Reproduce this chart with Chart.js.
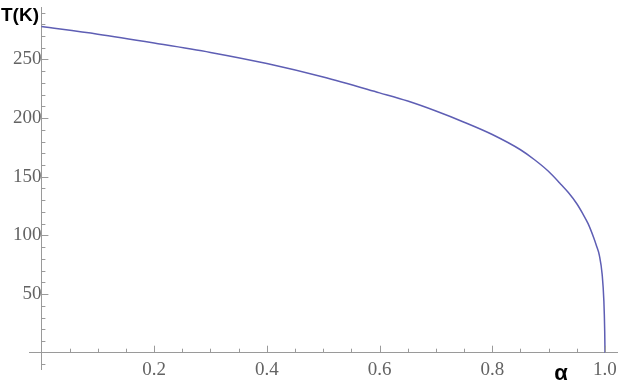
<!DOCTYPE html>
<html>
<head>
<meta charset="utf-8">
<script src="https://cdn.jsdelivr.net/npm/chart.js@4.4.0/dist/chart.umd.min.js"></script>
<style>
    html, body { margin: 0; padding: 0; background: #fff; }
    #wrap { width: 629px; height: 390px; }
</style>
</head>
<body>
<div id="wrap"><canvas id="chart" width="629" height="390"></canvas></div>
<script>
// Values
const alpha = [0, 0.1, 0.2, 0.3, 0.4, 0.5, 0.6, 0.65, 0.7, 0.75, 0.8, 0.85, 0.875, 0.9, 0.92, 0.935, 0.95, 0.96, 0.97, 0.98, 0.985, 0.99, 0.995, 0.998, 0.9995, 1.0];
const temp  = [278, 271.5, 264, 256, 246.5, 235, 221.5, 214.5, 206, 196.5, 186, 173, 164.5, 154.5, 144.5, 136.5, 127, 119, 110, 98, 91, 83, 66.5, 44, 18, 0];

const xTicks = [0.2, 0.4, 0.6, 0.8, 1.0];
const yTicks = [50, 100, 150, 200, 250];

const axisColor = '#9a9a9a';
const labelColor = '#636363';

// Mathematica style tick marks, pointing into the plot
const tickMarks = {
    id: 'tickMarks',
    afterDraw(chart) {
        const ctx = chart.ctx;
        const xs = chart.scales.x, ys = chart.scales.y;
        const x0 = xs.getPixelForValue(0);
        const y0 = ys.getPixelForValue(0);
        ctx.save();
        ctx.strokeStyle = axisColor;
        ctx.lineWidth = 1;
        ctx.beginPath();
        // x axis: minor every 0.05, major every 0.2
        for (let i = Math.ceil(xs.min / 0.05); i * 0.05 <= xs.max; i++) {
            if (i === 0) continue;
            const px = Math.round(xs.getPixelForValue(i * 0.05)) + 0.5;
            const len = i % 4 === 0 ? 7 : 4;
            ctx.moveTo(px, y0);
            ctx.lineTo(px, y0 - len);
        }
        // y axis: minor every 10, major every 50
        for (let j = Math.ceil(ys.min / 10); j * 10 <= ys.max; j++) {
            if (j === 0) continue;
            const py = Math.round(ys.getPixelForValue(j * 10)) + 0.5;
            const len = j % 5 === 0 ? 7 : 4;
            ctx.moveTo(x0, py);
            ctx.lineTo(x0 + len, py);
        }
        ctx.stroke();

        // axis names
        ctx.fillStyle = '#000';
        ctx.font = 'bold 19px "Liberation Sans", Arial, sans-serif';
        ctx.textAlign = 'left';
        ctx.textBaseline = 'alphabetic';
        ctx.fillText('T(K)', 1, 21);
        ctx.font = 'bold 22px "Liberation Sans", Arial, sans-serif';
        ctx.textAlign = 'center';
        ctx.fillText('α', 561, 380);
        ctx.restore();
    }
};

// keep the label overhang from shrinking the plot area
const noPad = s => { s.paddingTop = 0; s.paddingBottom = 0; s.paddingLeft = 0; s.paddingRight = 0; };

const tickFont = { family: '"Liberation Serif", "DejaVu Serif", serif', size: 19 };

const ctx = document.getElementById('chart').getContext('2d');
new Chart(ctx, {
    type: 'line',
    data: {
        datasets: [{
            data: alpha.map((a, i) => ({ x: a, y: temp[i] })),
            borderColor: '#5e5eb4',
            borderWidth: 1.5,
            pointRadius: 0,
            fill: false,
            cubicInterpolationMode: 'monotone'
        }]
    },
    options: {
        responsive: false,
        animation: false,
        layout: { padding: { left: 29, right: 12, top: 7, bottom: 21 } },
        plugins: { legend: { display: false }, tooltip: { enabled: false } },
        scales: {
            x: {
                type: 'linear',
                min: -0.022,
                max: 1.0213,
                position: { y: 0 },
                afterBuildTicks: s => { s.ticks = xTicks.map(v => ({ value: v })); },
                afterFit: noPad,
                grid: { display: false, drawTicks: false },
                border: { display: true, color: axisColor, width: 1 },
                ticks: {
                    color: labelColor,
                    padding: 6,
                    maxRotation: 0,
                    font: tickFont,
                    callback: v => v.toFixed(1)
                }
            },
            y: {
                type: 'linear',
                min: -13.9,
                max: 294.7,
                position: { x: 0 },
                afterBuildTicks: s => { s.ticks = yTicks.map(v => ({ value: v })); },
                afterFit: noPad,
                grid: { display: false },
                border: { display: true, color: axisColor, width: 1 },
                ticks: {
                    color: labelColor,
                    padding: 8,
                    font: tickFont,
                    callback: v => String(v)
                }
            }
        }
    },
    plugins: [tickMarks]
});
</script>
</body>
</html>
